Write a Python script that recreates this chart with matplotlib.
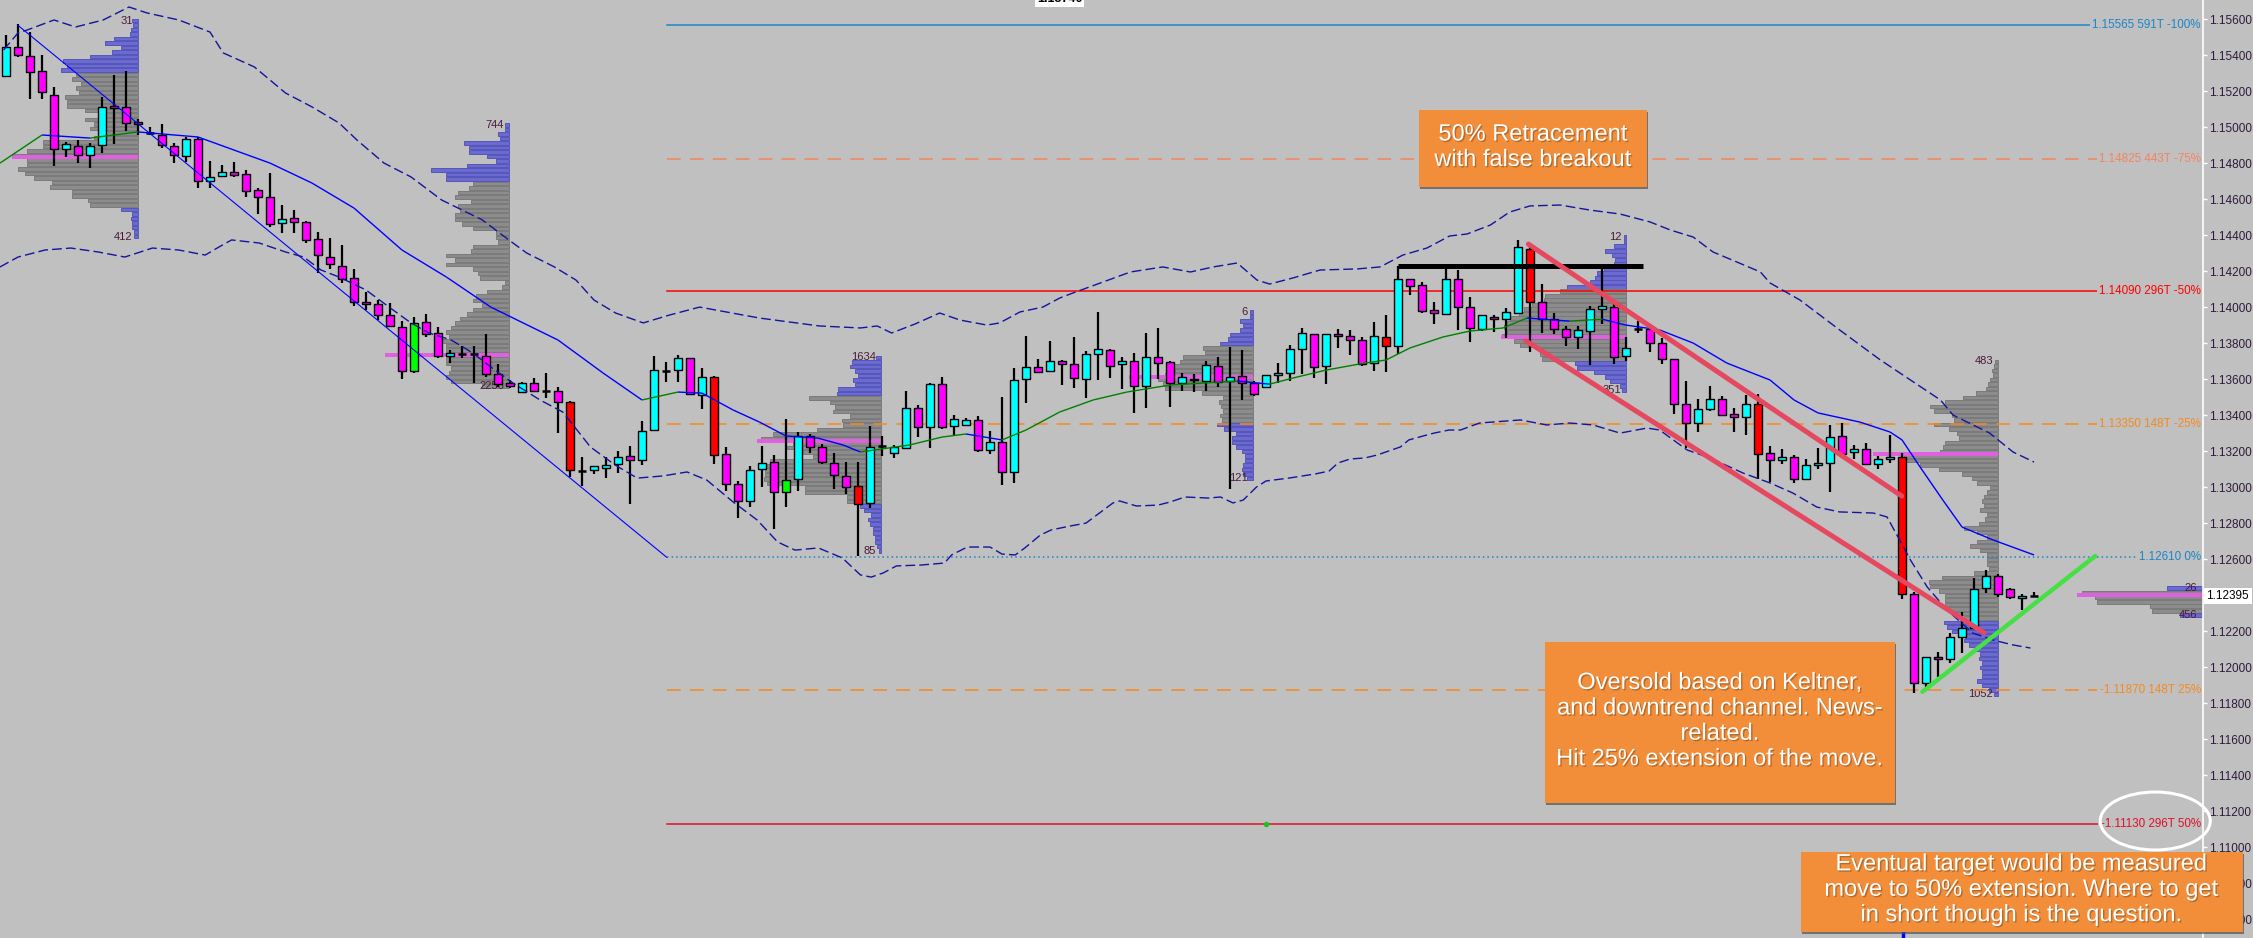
"""EUR/USD intraday chart: candles, volume profiles, Keltner channel and fib levels."""

import matplotlib
matplotlib.use('Agg')
import matplotlib.patheffects as pe
import matplotlib.pyplot as plt
import numpy as np
from matplotlib import font_manager
from matplotlib.collections import LineCollection
from matplotlib.patches import Ellipse, Rectangle
from matplotlib.transforms import blended_transform_factory

# ---- candles (one per bar, oldest first) ----
opens = [
    1.15284, 1.15447, 1.15397, 1.15310, 1.15180, 1.14878, 1.14896, 1.14845, 1.14900, 1.15117,
    1.15110, 1.15026, 1.14965, 1.14956, 1.14896, 1.14839, 1.14932, 1.14700, 1.14728, 1.14749,
    1.14739, 1.14649, 1.14613, 1.14465, 1.14493, 1.14473, 1.14376, 1.14276, 1.14230, 1.14160,
    1.14026, 1.14015, 1.13956, 1.13891, 1.13645, 1.13919, 1.13854, 1.13728, 1.13739, 1.13739,
    1.13730, 1.13630, 1.13576, 1.13526, 1.13576, 1.13534, 1.13535, 1.13471, 1.13091, 1.13093,
    1.13104, 1.13126, 1.13171, 1.13150, 1.13317, 1.13646, 1.13650, 1.13715, 1.13510, 1.13610,
    1.13182, 1.13015, 1.12921, 1.13099, 1.13137, 1.12971, 1.13043, 1.13284, 1.13223, 1.13132,
    1.13061, 1.13006, 1.12911, 1.13228, 1.13187, 1.13215, 1.13437, 1.13332, 1.13571, 1.13338,
    1.13343, 1.13371, 1.13207, 1.13249, 1.13085, 1.13599, 1.13665, 1.13643, 1.13700, 1.13682,
    1.13599, 1.13738, 1.13760, 1.13682, 1.13700, 1.13563, 1.13721, 1.13693, 1.13580, 1.13602,
    1.13591, 1.13671, 1.13587, 1.13615, 1.13576, 1.13554, 1.13621, 1.13632, 1.13765, 1.13849,
    1.13671, 1.13849, 1.13838, 1.13815, 1.13687, 1.13832, 1.13782, 1.14158, 1.14121, 1.13982,
    1.13963, 1.14154, 1.13999, 1.13876, 1.13946, 1.13932, 1.13965, 1.14324, 1.14026, 1.13934,
    1.13876, 1.13835, 1.13865, 1.13988, 1.14002, 1.13726, 1.13880, 1.13880, 1.13799, 1.13710,
    1.13461, 1.13354, 1.13435, 1.13488, 1.13404, 1.13388, 1.13461, 1.13187, 1.13149, 1.13169,
    1.13043, 1.13121, 1.13134, 1.13282, 1.13193, 1.13213, 1.13126, 1.13154, 1.13169, 1.12404,
    1.11913, 1.12054, 1.12043, 1.12165, 1.12219, 1.12437, 1.12506, 1.12432, 1.12382, 1.12395,
]
highs = [
    1.15512, 1.15573, 1.15527, 1.15400, 1.15221, 1.14919, 1.14928, 1.14910, 1.15169, 1.15289,
    1.15312, 1.15045, 1.15000, 1.15017, 1.14910, 1.14946, 1.14946, 1.14812, 1.14789, 1.14804,
    1.14760, 1.14660, 1.14743, 1.14567, 1.14538, 1.14478, 1.14417, 1.14382, 1.14345, 1.14213,
    1.14085, 1.14039, 1.14021, 1.13924, 1.13943, 1.13960, 1.13888, 1.13761, 1.13784, 1.13784,
    1.13849, 1.13682, 1.13595, 1.13585, 1.13608, 1.13632, 1.13554, 1.13478, 1.13165, 1.13115,
    1.13169, 1.13200, 1.13226, 1.13367, 1.13728, 1.13693, 1.13734, 1.13715, 1.13660, 1.13617,
    1.13221, 1.13034, 1.13117, 1.13228, 1.13178, 1.13378, 1.13304, 1.13295, 1.13239, 1.13187,
    1.13137, 1.13137, 1.13339, 1.13284, 1.13234, 1.13534, 1.13454, 1.13576, 1.13610, 1.13399,
    1.13384, 1.13395, 1.13311, 1.13500, 1.13660, 1.13839, 1.13711, 1.13811, 1.13706, 1.13834,
    1.13756, 1.13973, 1.13769, 1.13723, 1.13745, 1.13856, 1.13884, 1.13700, 1.13632, 1.13626,
    1.13700, 1.13723, 1.13778, 1.13761, 1.13591, 1.13621, 1.13688, 1.13788, 1.13884, 1.13849,
    1.13849, 1.13878, 1.13873, 1.13832, 1.13915, 1.13954, 1.14230, 1.14158, 1.14138, 1.14026,
    1.14230, 1.14206, 1.14056, 1.13954, 1.13956, 1.13993, 1.14373, 1.14332, 1.14126, 1.13967,
    1.13896, 1.13896, 1.14006, 1.14219, 1.14021, 1.13832, 1.13924, 1.13895, 1.13826, 1.13710,
    1.13589, 1.13489, 1.13563, 1.13506, 1.13437, 1.13513, 1.13517, 1.13228, 1.13210, 1.13178,
    1.13154, 1.13215, 1.13343, 1.13358, 1.13234, 1.13243, 1.13174, 1.13289, 1.13187, 1.12419,
    1.12057, 1.12082, 1.12191, 1.12304, 1.12493, 1.12539, 1.12515, 1.12441, 1.12406, 1.12417,
]
lows = [
    1.15284, 1.15388, 1.15154, 1.15154, 1.14785, 1.14835, 1.14802, 1.14771, 1.14854, 1.14904,
    1.14980, 1.14956, 1.14956, 1.14882, 1.14799, 1.14804, 1.14660, 1.14660, 1.14721, 1.14724,
    1.14613, 1.14515, 1.14446, 1.14410, 1.14410, 1.14354, 1.14191, 1.14210, 1.14135, 1.14008,
    1.13984, 1.13928, 1.13895, 1.13599, 1.13632, 1.13832, 1.13715, 1.13691, 1.13715, 1.13576,
    1.13613, 1.13558, 1.13552, 1.13521, 1.13526, 1.13496, 1.13299, 1.13057, 1.13007, 1.13071,
    1.13049, 1.13076, 1.12904, 1.13124, 1.13317, 1.13582, 1.13585, 1.13515, 1.13432, 1.13126,
    1.12980, 1.12826, 1.12887, 1.12999, 1.12769, 1.12887, 1.12980, 1.13187, 1.13126, 1.12991,
    1.12960, 1.12617, 1.12884, 1.13174, 1.13163, 1.13210, 1.13280, 1.13219, 1.13321, 1.13289,
    1.13341, 1.13196, 1.13184, 1.13013, 1.13024, 1.13469, 1.13635, 1.13643, 1.13569, 1.13552,
    1.13496, 1.13595, 1.13608, 1.13545, 1.13413, 1.13441, 1.13599, 1.13446, 1.13535, 1.13530,
    1.13535, 1.13558, 1.12989, 1.13484, 1.13508, 1.13554, 1.13576, 1.13589, 1.13626, 1.13608,
    1.13571, 1.13774, 1.13735, 1.13674, 1.13646, 1.13641, 1.13739, 1.14069, 1.13969, 1.13908,
    1.13958, 1.13873, 1.13808, 1.13867, 1.13860, 1.13826, 1.13965, 1.13752, 1.13858, 1.13849,
    1.13785, 1.13769, 1.13680, 1.13904, 1.13685, 1.13699, 1.13858, 1.13752, 1.13685, 1.13408,
    1.13217, 1.13308, 1.13424, 1.13396, 1.13308, 1.13289, 1.13043, 1.13026, 1.13126, 1.13021,
    1.13043, 1.13099, 1.12971, 1.13160, 1.13154, 1.13122, 1.13099, 1.13132, 1.12376, 1.11854,
    1.11891, 1.11946, 1.12021, 1.12076, 1.12219, 1.12410, 1.12387, 1.12380, 1.12317, 1.12391,
]
closes = [
    1.15447, 1.15400, 1.15306, 1.15195, 1.14878, 1.14904, 1.14845, 1.14896, 1.15113, 1.15104,
    1.15021, 1.15015, 1.14965, 1.14900, 1.14845, 1.14932, 1.14700, 1.14721, 1.14749, 1.14732,
    1.14645, 1.14610, 1.14460, 1.14488, 1.14471, 1.14373, 1.14288, 1.14239, 1.14154, 1.14026,
    1.14015, 1.13956, 1.13895, 1.13646, 1.13913, 1.13849, 1.13728, 1.13743, 1.13739, 1.13739,
    1.13626, 1.13573, 1.13563, 1.13576, 1.13534, 1.13534, 1.13471, 1.13095, 1.13091, 1.13115,
    1.13122, 1.13169, 1.13150, 1.13310, 1.13649, 1.13646, 1.13715, 1.13515, 1.13610, 1.13176,
    1.13017, 1.12921, 1.13093, 1.13132, 1.12971, 1.13037, 1.13284, 1.13221, 1.13137, 1.13065,
    1.12999, 1.12906, 1.13224, 1.13228, 1.13221, 1.13437, 1.13332, 1.13571, 1.13332, 1.13376,
    1.13371, 1.13207, 1.13249, 1.13082, 1.13595, 1.13665, 1.13641, 1.13700, 1.13682, 1.13604,
    1.13739, 1.13765, 1.13674, 1.13700, 1.13563, 1.13721, 1.13691, 1.13576, 1.13610, 1.13593,
    1.13676, 1.13585, 1.13610, 1.13576, 1.13517, 1.13621, 1.13632, 1.13765, 1.13854, 1.13665,
    1.13849, 1.13838, 1.13815, 1.13684, 1.13838, 1.13782, 1.14158, 1.14115, 1.13980, 1.13965,
    1.14154, 1.13999, 1.13882, 1.13954, 1.13932, 1.13973, 1.14332, 1.14028, 1.13932, 1.13876,
    1.13835, 1.13871, 1.13988, 1.14008, 1.13721, 1.13774, 1.13880, 1.13799, 1.13710, 1.13461,
    1.13354, 1.13432, 1.13488, 1.13400, 1.13388, 1.13461, 1.13184, 1.13149, 1.13169, 1.13043,
    1.13121, 1.13134, 1.13276, 1.13182, 1.13213, 1.13128, 1.13156, 1.13169, 1.12406, 1.11913,
    1.12057, 1.12043, 1.12169, 1.12219, 1.12432, 1.12506, 1.12404, 1.12387, 1.12393, 1.12395,
]
red_bars = [47, 59, 71, 115, 127, 146, 158]     # highlighted down bars
green_bars = [34, 65]                           # highlighted up bars

# ---- Keltner channel (bar index, price) ----
mid_x = [-0.5, 3, 7, 11, 16, 22, 25.5, 29, 33, 36.7, 40.4, 46, 49.75, 53, 56, 58, 60.6, 62.8,
         65, 67.6, 69.75, 71.2, 75.3, 78, 80, 83, 85, 87.8, 90.6, 93.4, 97, 102.6, 105.3,
         107.25, 110, 112.8, 115, 117, 119.75, 122, 124.75, 126.75, 130.3, 133, 135, 137.8,
         140.6, 143.4, 147, 149, 151, 154.5, 157, 158, 159.5, 161.4, 163, 165.6, 169]
mid_p = [1.14800, 1.14956, 1.14939, 1.14973, 1.14945, 1.14800, 1.14689, 1.14550, 1.14317,
         1.14167, 1.14000, 1.13817, 1.13634, 1.13484, 1.13528, 1.13522, 1.13428, 1.13361,
         1.13284, 1.13273, 1.13234, 1.13195, 1.13234, 1.13278, 1.13295, 1.13262, 1.13317,
         1.13417, 1.13484, 1.13528, 1.13567, 1.13589, 1.13572, 1.13606, 1.13650, 1.13684,
         1.13706, 1.13773, 1.13834, 1.13867, 1.13884, 1.13939, 1.13922, 1.13933, 1.13900,
         1.13873, 1.13800, 1.13689, 1.13595, 1.13484, 1.13412, 1.13361, 1.13306, 1.13262,
         1.13112, 1.12928, 1.12778, 1.12706, 1.12623]
upper_x = [-0.2, 1, 1.75, 4, 5.8, 8.1, 10.25, 11.75, 14.4, 17, 18.1, 20.7, 23.3, 25.5, 27.75,
           29.25, 31.5, 33.75, 36.3, 39.7, 41.9, 43.4, 45.7, 47.5, 49, 50.8, 53.1, 55.3, 57.8,
           62.8, 67.8, 71.2, 72.6, 73.8, 75.75, 77.8, 79.5, 81.75, 82.8, 84.5, 86.4, 87.8,
           88.9, 91.2, 93.7, 96.4, 98.7, 100.6, 102.6, 104.25, 105.3, 107.25, 109.5, 112.6,
           114.5, 116.4, 118.4, 120.3, 121.75, 123.7, 125.3, 127, 129.5, 132, 134.5, 137,
           138.7, 140.6, 142.25, 144.25, 146.2, 147, 149.5, 152.8, 156.2, 158.7, 161.2,
           162.25, 165.3, 167.25, 169]
upper_p = [1.15428, 1.15523, 1.15539, 1.15595, 1.15556, 1.15595, 1.15667, 1.15634, 1.15595,
           1.15528, 1.15412, 1.15334, 1.15189, 1.15112, 1.15023, 1.14928, 1.14800, 1.14723,
           1.14595, 1.14484, 1.14373, 1.14300, 1.14223, 1.14150, 1.14039, 1.13967, 1.13912,
           1.13956, 1.14000, 1.13939, 1.13895, 1.13884, 1.13895, 1.13856, 1.13906, 1.13967,
           1.13928, 1.13900, 1.13912, 1.13973, 1.14000, 1.14050, 1.14078, 1.14134, 1.14195,
           1.14223, 1.14195, 1.14223, 1.14245, 1.14150, 1.14128, 1.14162, 1.14206, 1.14212,
           1.14223, 1.14289, 1.14328, 1.14395, 1.14406, 1.14456, 1.14528, 1.14562, 1.14567,
           1.14539, 1.14517, 1.14473, 1.14428, 1.14389, 1.14306, 1.14250, 1.14195, 1.14134,
           1.14039, 1.13873, 1.13706, 1.13595, 1.13484, 1.13400, 1.13300, 1.13195, 1.13139]
lower_x = [-0.5, 1, 3.25, 5.4, 7.7, 9.9, 12.2, 14.4, 16.6, 17.75, 18.8, 21.1, 23.3, 24.8,
           26.25, 27.75, 30, 32.25, 33.75, 35.25, 37.1, 38.9, 40.4, 42.25, 44.5, 46.4, 48.7,
           50.75, 52.6, 54.75, 56.75, 58.4, 60.6, 62.6, 64.3, 65.75, 67.7, 69.7, 71.2, 72.1,
           73.1, 74.2, 76.25, 78.2, 78.8, 80.1, 82, 83, 84.1, 84.9, 86.2, 87.1, 88.7, 90,
           90.9, 92.25, 92.8, 94.2, 96, 97, 98.25, 100.2, 101.2, 102.25, 103.1, 104.2, 105,
           106.9, 109.1, 110.25, 111, 112, 113.25, 114.25, 116.2, 116.9, 118.1, 119, 120.25,
           121.2, 122.8, 126.2, 128.4, 130.3, 132.25, 134.5, 136.75, 137.8, 140.1, 142,
           144.75, 147, 148.9, 150.9, 152.8, 155.6, 156.75, 157.8, 158.7, 160.1, 161.75,
           163.9, 165.6, 167.25, 168.7]
lower_p = [1.14223, 1.14278, 1.14317, 1.14328, 1.14306, 1.14278, 1.14328, 1.14317, 1.14289,
           1.14334, 1.14373, 1.14356, 1.14306, 1.14278, 1.14206, 1.14167, 1.14095, 1.13984,
           1.13912, 1.13856, 1.13817, 1.13745, 1.13667, 1.13578, 1.13484, 1.13417, 1.13223,
           1.13123, 1.13050, 1.13062, 1.13084, 1.13039, 1.12917, 1.12817, 1.12695, 1.12650,
           1.12662, 1.12606, 1.12512, 1.12500, 1.12523, 1.12562, 1.12567, 1.12578, 1.12623,
           1.12667, 1.12667, 1.12628, 1.12623, 1.12662, 1.12734, 1.12762, 1.12784, 1.12800,
           1.12845, 1.12912, 1.12923, 1.12895, 1.12900, 1.12917, 1.12945, 1.12939, 1.12945,
           1.12912, 1.12928, 1.13000, 1.13034, 1.13050, 1.13073, 1.13089, 1.13134, 1.13156,
           1.13162, 1.13178, 1.13223, 1.13262, 1.13284, 1.13300, 1.13317, 1.13317, 1.13356,
           1.13373, 1.13345, 1.13356, 1.13345, 1.13300, 1.13328, 1.13317, 1.13206, 1.13162,
           1.13078, 1.13023, 1.12967, 1.12889, 1.12862, 1.12856, 1.12834, 1.12706, 1.12595,
           1.12445, 1.12317, 1.12189, 1.12150, 1.12123, 1.12106]

# ---- fib extension levels ----
fib_prices = [1.15565, 1.14825, 1.14090, 1.13350, 1.12610, 1.11870, 1.11130]
fib_labels = ['1.15565 591T -100%', '1.14825 443T -75%', '1.14090 296T -50%',
              '1.13350 148T -25%', '1.12610 0%', '-1.11870 148T 25%', '-1.11130 296T 50%']
fib_colors = ['#1C86C8', '#F4845F', '#FF0000', '#F58A1F', '#1C86C8', '#F58A1F', '#E0102A']
fib_styles = ['-', (0, (9, 6)), '-', (0, (9, 6)), (0, (1, 2)), (0, (9, 6)), '-']
fib_start = 55.06
trend_start = (1.0, 1.15565)
trend_end = (55.06, 1.12610)

# ---- volume profiles (rows from top price downward) ----
prof1_vols = [6, 5, 7, 8, 24, 33, 17, 26, 48, 75, 71, 77, 62, 66, 57, 62, 59, 73, 71, 71, 53,
              39, 53, 44, 48, 35, 44, 95, 95, 111, 125, 111, 111, 120, 113, 104, 86, 88, 66,
              66, 50, 48, 17, 6, 7, 6, 6, 4, 4]
prof2_vols = [4, 4, 11, 9, 45, 40, 40, 22, 13, 42, 78, 63, 63, 36, 40, 51, 54, 38, 51, 49,
              54, 54, 47, 36, 13, 13, 11, 36, 38, 63, 54, 63, 36, 31, 29, 4, 7, 22, 33, 36,
              27, 36, 42, 49, 54, 58, 63, 60, 67, 63, 63, 63, 63, 63, 58, 60, 63, 58, 27]
prof3_vols = [5, 29, 31, 26, 23, 28, 26, 43, 44, 72, 51, 46, 48, 31, 39, 38, 64, 108, 120,
              88, 94, 78, 68, 111, 114, 116, 116, 117, 114, 76, 76, 34, 34, 21, 17, 10, 13,
              11, 8, 8, 6, 6, 4, 2]
prof4_vols = [3, 3, 13, 10, 13, 23, 25, 33, 50, 48, 70, 73, 80, 78, 88, 95, 90, 88, 51, 30,
              34, 32, 30, 33, 31, 36, 29, 17, 21, 21, 17, 11, 8, 8, 10, 11, 10, 6]
prof5_vols = [2, 2, 12, 21, 14, 11, 12, 22, 29, 31, 36, 59, 66, 81, 82, 94, 102, 107, 116,
              119, 122, 119, 124, 112, 106, 86, 86, 84, 51, 49, 32, 21, 16, 6, 4]
prof6_vols = [3, 4, 6, 5, 8, 10, 12, 22, 35, 53, 68, 64, 46, 44, 64, 49, 41, 39, 53, 55, 58,
              94, 94, 78, 59, 36, 26, 21, 8, 11, 14, 16, 14, 18, 11, 13, 19, 34, 21, 11, 21,
              28, 18, 11, 11, 11, 9, 24, 56, 69, 68, 59, 53, 53, 53, 51, 46, 34, 54, 51, 46,
              33, 34, 29, 24, 18, 19, 16, 18, 16, 16, 21, 16, 9, 4]
prof7_vols = [35, 120, 107, 105, 52, 50, 22]
prof_vols = [prof1_vols, prof2_vols, prof3_vols, prof4_vols, prof5_vols, prof6_vols, prof7_vols]
prof_edges = [10.96, 41.9, 72.9, 103.9, 135.0, 166.0, 183.0]
prof_tops = [1.15591, 1.15012, 1.13721, 1.13974, 1.14388, 1.13699, 1.12438]
prof_value_area = [(12, 41), (13, 58), (9, 32), (8, 24), (12, 27), (0, 57), (1, 5)]
poc_prices = [1.14835, 1.13734, 1.13258, 1.13613, 1.13832, 1.13184, 1.12400]
poc_starts = [0.54, 31.6, 62.6, 93.6, 124.6, 155.6, 172.6]
prof_top_labels = ['31', '744', '1634', '6', '12', '483', '26']
prof_bottom_labels = ['412', '2256', '85', '121', '351', '1052', '456']
ROW = 0.00025
VOL_SCALE = 1 / 12          # bar widths per volume unit

# ---- drawn annotations ----
resistance = ([116.0, 136.4], 1.14230)
channel_upper = ([126.86, 157.98], [1.14350, 1.12950])
channel_lower = ([126.64, 164.83], [1.13813, 1.12191])
support = ([159.7, 174.1], [1.11863, 1.12617])
last_price = 1.12395
price_ticks = np.arange(1.106, 1.1561, 0.002)

notes = [
    ('50% Retracement\nwith false breakout', (117.75, 136.75, 1.14665, 1.15095), (127.25, 1.14888)),
    ('Oversold based on Keltner,\nand downtrend channel. News-\nrelated.\nHit 25% extension of the move.',
     (128.25, 157.4, 1.11247, 1.12141), (142.83, 1.11700)),
    ('Eventual target would be measured\nmove to 50% extension. Where to get\nin short though is the question.',
     (149.56, 186.39, 1.10530, 1.10974), (167.97, 1.10763)),
]

BG = '#C0C0C0'
UP, DOWN = '#00FFFF', '#FF00FF'
GRAY, GRAY_EDGE = '#8C8C8C', '#7A7A7A'
BLUE, BLUE_EDGE = '#6A6AD2', '#5656B8'
POC = '#E060E0'
NOTE = '#F28E3A'

plt.rcParams['font.family'] = ['Liberation Sans', 'DejaVu Sans']
names = {f.name for f in font_manager.fontManager.ttflist}
narrow = 'Liberation Sans Narrow' in names
axis_font = 'Liberation Sans Narrow' if narrow else 'Liberation Sans'
axis_size = 10 if narrow else 8.5

fig = plt.figure(figsize=(22.53, 9.38), dpi=100, facecolor=BG)
ax = fig.add_axes([0, 0, 2203 / 2253, 1], facecolor=BG)
ax.set_xlim(-0.5, 183.08)
ax.set_ylim(1.10495, 1.15706)

# volume profiles
for vols, edge, top, (va0, va1), poc_p, poc_x, tl, bl in zip(
        prof_vols, prof_edges, prof_tops, prof_value_area, poc_prices, poc_starts,
        prof_top_labels, prof_bottom_labels):
    rows = top - ROW * np.arange(len(vols))
    w = np.array(vols) * VOL_SCALE
    inside = [va0 <= j <= va1 for j in range(len(vols))]
    ax.barh(rows, w, left=edge - w, height=ROW * 0.78,
            color=[GRAY if v else BLUE for v in inside],
            edgecolor=[GRAY_EDGE if v else BLUE_EDGE for v in inside],
            linewidth=0.7, zorder=1, clip_on=False)
    ax.barh(poc_p, edge - poc_x, left=poc_x, height=ROW * 0.9, color=POC, zorder=1.2,
            clip_on=False)
    ax.text(edge - 0.4, rows[0], tl, ha='right', va='center', fontsize=8, color='#4A1A3A', zorder=1.5)
    ax.text(edge - 0.4, rows[-1], bl, ha='right', va='center', fontsize=8, color='#4A1A3A', zorder=1.5)

# fib levels and the swing they are drawn from
ax.plot([trend_start[0], trend_end[0]], [trend_start[1], trend_end[1]], color='#0000FF', lw=0.8, zorder=4)
for p, lab, col, ls in zip(fib_prices, fib_labels, fib_colors, fib_styles):
    ax.plot([fib_start, 182.9], [p, p], color=col, ls=ls, lw=1.1, zorder=1.6)
    ax.text(182.9, p, lab, ha='right', va='center', fontsize=8.4, color=col, zorder=1.7,
            bbox=dict(boxstyle='square,pad=0.2', fc=BG, ec='none'))

# candles
o, h, l, c = map(np.array, (opens, highs, lows, closes))
idx = np.arange(len(o))
ax.vlines(idx, l, h, color='black', lw=1.6, zorder=3)
colors = []
for i in idx:
    if i in red_bars:
        colors.append('#FF0000')
    elif i in green_bars:
        colors.append('#00FF00')
    else:
        colors.append(UP if c[i] > o[i] else DOWN)
body = o != c
ax.bar(idx[body], np.abs(c - o)[body], bottom=np.minimum(o, c)[body], width=0.62,
       color=np.array(colors)[body], edgecolor='black', linewidth=1.0, zorder=3.1)
ax.hlines(o[~body], idx[~body] - 0.31, idx[~body] + 0.31, color='black', lw=1.8, zorder=3.2)

# Keltner channel: midline green when rising, blue when falling
mx, mp = np.array(mid_x), np.array(mid_p)
segs = np.stack([np.column_stack([mx[:-1], mp[:-1]]), np.column_stack([mx[1:], mp[1:]])], axis=1)
seg_cols = ['#008000' if b > a else '#0000FF' for a, b in zip(mp[:-1], mp[1:])]
ax.add_collection(LineCollection(segs, colors=seg_cols, linewidths=1.0, zorder=4))
ax.plot(upper_x, upper_p, color='#14149C', lw=1.0, ls=(0, (7, 3)), zorder=4)
ax.plot(lower_x, lower_p, color='#14149C', lw=1.0, ls=(0, (7, 3)), zorder=4)

# hand-drawn lines
ax.plot(resistance[0], [resistance[1]] * 2, color='black', lw=3.6, zorder=5, solid_capstyle='butt')
ax.plot(*channel_upper, color='#E5485F', lw=3.6, zorder=5, solid_capstyle='round')
ax.plot(*channel_lower, color='#E5485F', lw=3.6, zorder=5, solid_capstyle='round')
ax.plot(*support, color='#44E044', lw=3.2, zorder=5, solid_capstyle='round')
ax.plot(105, fib_prices[-1], 'o', ms=3, color='#20C020', zorder=5)
ax.plot([158.06, 158.06], [1.10495, 1.10530], color='#0000FF', lw=2.5, zorder=5, clip_on=False)
ax.add_patch(Ellipse((179.1, 1.11145), 9.17, 0.00322, fill=False, ec='white', lw=2.2,
                     zorder=6, clip_on=False))

# note boxes
shadow = [pe.SimplePatchShadow(offset=(1, -1.5), shadow_rgbFace='#505050', alpha=0.7), pe.Normal()]
text_fx = [pe.SimplePatchShadow(offset=(1, -1), shadow_rgbFace='#8A5426', alpha=0.6), pe.Normal()]
for txt, (x0, x1, y0, y1), (tx, ty) in notes:
    ax.add_patch(Rectangle((x0, y0), x1 - x0, y1 - y0, fc=NOTE, ec='none', zorder=7,
                           clip_on=False, path_effects=shadow))
    ax.text(tx, ty, txt, ha='center', va='center', ma='center', fontsize=17, color='white',
            linespacing=1.2, zorder=8, clip_on=False, path_effects=text_fx)

# cut-off price tag at the top edge
ax.text(87.8, 1.15710, '1.15740', ha='center', va='center', fontsize=9, fontweight='bold',
        color='black', bbox=dict(boxstyle='square,pad=0.15', fc='white', ec='none'), zorder=6)

# price axis
for side in ('top', 'left', 'bottom'):
    ax.spines[side].set_visible(False)
ax.spines['right'].set_color('white')
ax.spines['right'].set_linewidth(1.2)
ax.set_xticks([])
ax.yaxis.tick_right()
ax.set_yticks(price_ticks)
ax.set_yticklabels([f'{t:.5f}' for t in price_ticks], fontfamily=axis_font)
ax.tick_params(axis='y', colors='white', labelcolor='#2E1A3C', length=3, width=1, pad=1.5,
               labelsize=axis_size)
trans = blended_transform_factory(ax.transAxes, ax.transData)
ax.text(1.0016, last_price, f'{last_price:.5f}', transform=trans, ha='left', va='center',
        fontsize=axis_size, fontfamily=axis_font, color='black', zorder=9,
        bbox=dict(boxstyle='square,pad=0.2', fc='white', ec='none'))

fig.savefig('out.png', dpi=100, facecolor=BG)
